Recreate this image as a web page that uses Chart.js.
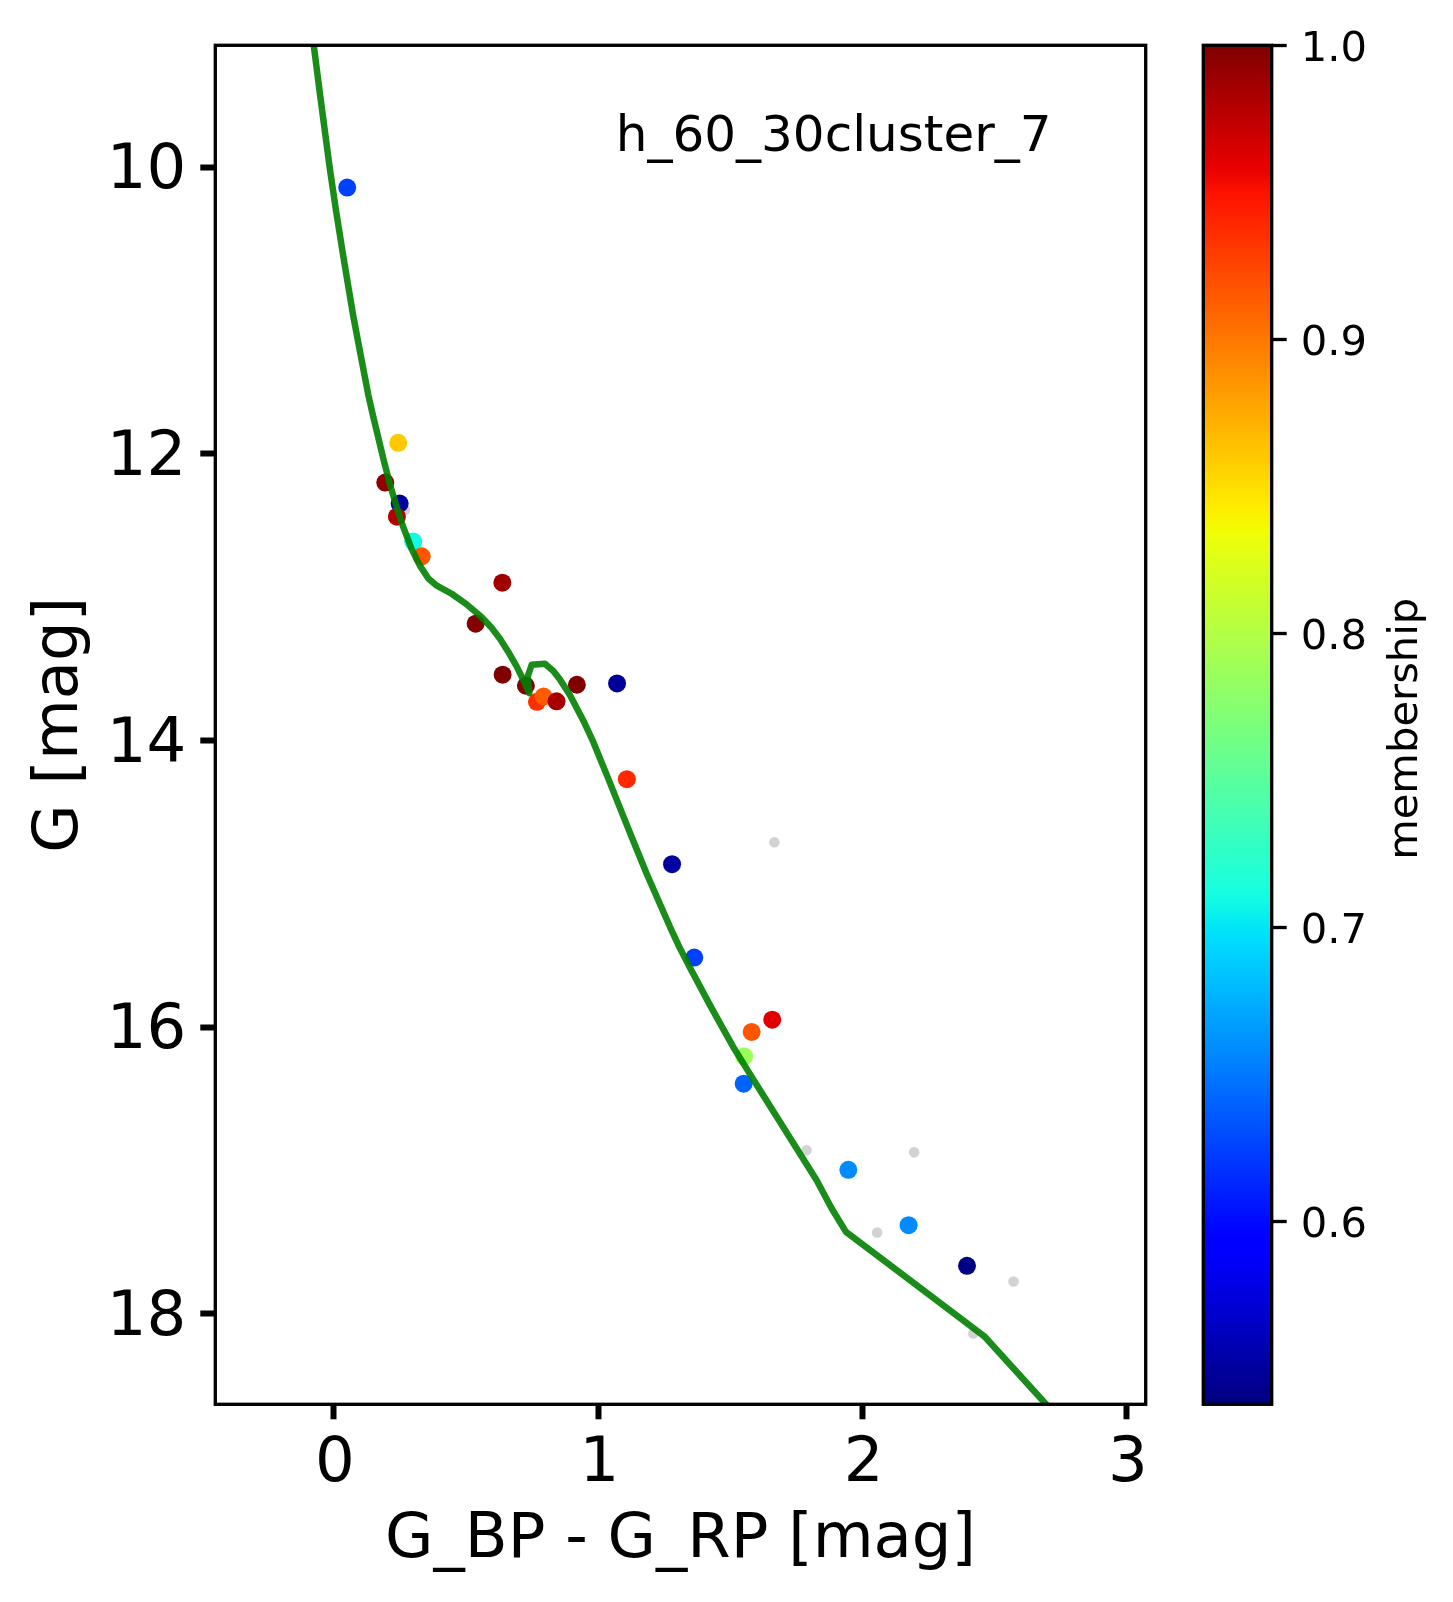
<!DOCTYPE html>
<html>
<head>
<meta charset="utf-8">
<title>h_60_30cluster_7</title>
<script src="https://cdn.jsdelivr.net/npm/chart.js@4/dist/chart.umd.min.js"></script>
<style>
  html, body { margin: 0; padding: 0; background: #fff; }
  #wrap { position: relative; width: 1453px; height: 1602px; overflow: hidden; }
  #cmd { position: absolute; left: 0; top: 0; }
  #bar { position: absolute; left: 1153px; top: 0; }
</style>
</head>
<body>
<div id="wrap">
  <canvas id="cmd" width="1453" height="1602"></canvas>
  <canvas id="bar" width="300" height="1602"></canvas>
</div>
<script>
// stars with a membership value (drawing order matters where they overlap)
const memberX = [0.050, 0.243, 0.194, 0.2485, 0.238, 0.300, 0.332, 0.637, 0.536, 0.638, 0.726, 0.919, 1.071, 0.768, 0.793, 0.842, 1.108, 1.279, 1.363, 1.658, 1.580, 1.552, 1.550, 1.946, 2.174, 2.395];
const memberY = [10.142, 11.923, 12.200, 12.347, 12.438, 12.612, 12.715, 12.899, 13.185, 13.541, 13.618, 13.611, 13.602, 13.730, 13.693, 13.727, 14.270, 14.863, 15.515, 15.948, 16.034, 16.204, 16.395, 16.996, 17.382, 17.666];
const memberP = [0.625, 0.860, 0.994, 0.551, 0.980, 0.709, 0.917, 0.987, 0.998, 1.000, 0.998, 1.000, 0.548, 0.935, 0.914, 0.984, 0.939, 0.551, 0.625, 0.961, 0.917, 0.786, 0.640, 0.659, 0.659, 0.540];

// grey field stars
const fieldX = [0.2686, 1.666, 1.788, 2.195, 2.055, 2.571, 2.419];
const fieldY = [12.391, 14.710, 16.860, 16.874, 17.433, 17.775, 18.138];

// isochrone
const isoX = [-0.080, -0.052, -0.017, 0.007, 0.035, 0.073, 0.105, 0.130, 0.149, 0.168, 0.187, 0.212, 0.237, 0.262, 0.294, 0.325, 0.357, 0.389, 0.445, 0.502, 0.559, 0.597, 0.628, 0.659, 0.691, 0.716, 0.739, 0.733, 0.748, 0.798, 0.830, 0.855, 0.893, 0.943, 0.981, 1.032, 1.082, 1.132, 1.183, 1.227, 1.271, 1.309, 1.347, 1.422, 1.467, 1.511, 1.561, 1.612, 1.826, 1.883, 1.937, 2.179, 2.463, 2.646, 2.720];
const isoY = [9.100, 9.503, 9.992, 10.294, 10.620, 11.039, 11.350, 11.590, 11.745, 11.890, 12.035, 12.215, 12.370, 12.510, 12.665, 12.780, 12.870, 12.920, 12.976, 13.050, 13.140, 13.215, 13.290, 13.380, 13.483, 13.576, 13.669, 13.553, 13.471, 13.465, 13.515, 13.575, 13.685, 13.860, 14.010, 14.240, 14.470, 14.700, 14.930, 15.115, 15.300, 15.450, 15.585, 15.845, 15.995, 16.140, 16.290, 16.440, 17.068, 17.266, 17.429, 17.766, 18.162, 18.534, 18.684];

const xTicks = [0, 1, 2, 3];
const yTicks = [10, 12, 14, 16, 18];
const barTicks = [0.6, 0.7, 0.8, 0.9, 1.0];
const xRange = [-0.449, 3.071];
const yRange = [9.149, 18.632];
const barRange = [0.5378, 1.0];

const labelName = 'h_60_30cluster_7';
const labelAt = [1.066, 9.889];

Chart.defaults.font.family = '"DejaVu Sans"';
Chart.defaults.color = '#000';

// matplotlib jet, piecewise
const jetR = [[0, 0], [0.35, 0], [0.66, 1], [0.89, 1], [1, 0.5]];
const jetG = [[0, 0], [0.125, 0], [0.375, 1], [0.64, 1], [0.91, 0], [1, 0]];
const jetB = [[0, 0.5], [0.11, 1], [0.34, 1], [0.65, 0], [1, 0]];

function lerp(tab, t) {
    for (let i = 1; i < tab.length; i++) {
        if (t <= tab[i][0]) {
            const f = (t - tab[i - 1][0]) / (tab[i][0] - tab[i - 1][0]);
            return tab[i - 1][1] + f * (tab[i][1] - tab[i - 1][1]);
        }
    }
    return tab[tab.length - 1][1];
}

function jet(t) {
    t = Math.min(1, Math.max(0, t));
    const c = [jetR, jetG, jetB].map(tab => Math.round(lerp(tab, t) * 255));
    return 'rgb(' + c.join(',') + ')';
}

function pColor(p) {
    return jet((p - barRange[0]) / (barRange[1] - barRange[0]));
}

function pairs(xs, ys) {
    return xs.map((x, i) => ({x: x, y: ys[i]}));
}

// pin the axis box, and drop the room chart.js keeps for overhanging labels
function pinBox(s, prop, size) {
    s[prop] = size;
    s.paddingTop = s.paddingBottom = s.paddingLeft = s.paddingRight = 0;
}

// black box round the plot area
const frame = {
    id: 'frame',
    afterDatasetsDraw(chart) {
        const a = chart.chartArea, ctx = chart.ctx;
        ctx.save();
        ctx.strokeStyle = '#000';
        ctx.lineWidth = 3.33;
        ctx.strokeRect(a.left, a.top, a.right - a.left, a.bottom - a.top);
        ctx.restore();
    }
};

const clusterName = {
    id: 'clusterName',
    afterDatasetsDraw(chart) {
        const ctx = chart.ctx;
        ctx.save();
        ctx.font = '50px "DejaVu Sans"';
        ctx.fillStyle = '#000';
        ctx.textAlign = 'left';
        ctx.textBaseline = 'alphabetic';
        ctx.fillText(labelName, chart.scales.x.getPixelForValue(labelAt[0]), chart.scales.y.getPixelForValue(labelAt[1]));
        ctx.restore();
    }
};

// chart.js turns a right hand title the other way, so this one is by hand
const barTitle = {
    id: 'barTitle',
    afterDraw(chart) {
        const a = chart.chartArea, ctx = chart.ctx;
        ctx.save();
        ctx.translate(1416.5 - 1153, (a.top + a.bottom) / 2 + 4);
        ctx.rotate(-Math.PI / 2);
        ctx.font = '41.67px "DejaVu Sans"';
        ctx.fillStyle = '#000';
        ctx.textAlign = 'center';
        ctx.textBaseline = 'alphabetic';
        ctx.fillText('membership', 0, 0);
        ctx.restore();
    }
};

new Chart(document.getElementById('cmd').getContext('2d'), {
    type: 'scatter',
    data: {
        datasets: [{
            data: pairs(isoX, isoY),
            showLine: true,
            borderColor: 'rgba(0,128,0,0.9)',
            borderWidth: 6.5,
            borderJoinStyle: 'round',
            tension: 0,
            pointRadius: 0,
            clip: 0,
            order: 0
        }, {
            data: pairs(memberX, memberY),
            pointRadius: 9,
            pointBorderWidth: 0,
            pointBackgroundColor: memberP.map(pColor),
            order: 1
        }, {
            data: pairs(fieldX, fieldY),
            pointRadius: 5.3,
            pointBorderWidth: 0,
            pointBackgroundColor: '#d3d3d3',
            order: 2
        }]
    },
    options: {
        responsive: false,
        animation: false,
        devicePixelRatio: 1,
        layout: {padding: {left: 10, right: 307.3, top: 45.3, bottom: 10}},
        plugins: {legend: {display: false}, tooltip: {enabled: false}},
        scales: {
            x: {
                type: 'linear',
                min: xRange[0],
                max: xRange[1],
                afterBuildTicks: s => { s.ticks = xTicks.map(v => ({value: v})); },
                afterFit: s => pinBox(s, 'height', 187.7),
                border: {display: false},
                grid: {drawOnChartArea: false, tickLength: 15, tickWidth: 6, tickColor: '#000'},
                ticks: {font: {size: 62.5}, padding: 8, labelOffset: 1, maxRotation: 0, autoSkip: false},
                title: {display: true, text: 'G_BP - G_RP [mag]', font: {size: 62.5}, padding: {top: 0, bottom: 14}}
            },
            y: {
                type: 'linear',
                reverse: true,
                min: yRange[0],
                max: yRange[1],
                afterBuildTicks: s => { s.ticks = yTicks.map(v => ({value: v})); },
                afterFit: s => pinBox(s, 'width', 205.3),
                border: {display: false},
                grid: {drawOnChartArea: false, tickLength: 15, tickWidth: 6, tickColor: '#000'},
                ticks: {font: {size: 62.5}, padding: 14, labelOffset: 5, autoSkip: false},
                title: {display: true, text: 'G [mag]', font: {size: 62.5}, padding: {top: 13, bottom: 0}}
            }
        }
    },
    plugins: [frame, clusterName]
});

new Chart(document.getElementById('bar').getContext('2d'), {
    type: 'bar',
    data: {
        labels: ['membership'],
        datasets: [{
            data: [barRange],
            barPercentage: 1,
            categoryPercentage: 1,
            borderSkipped: false,
            backgroundColor(c) {
                const a = c.chart.chartArea;
                if (!a) return '#000';
                const g = c.chart.ctx.createLinearGradient(0, a.bottom, 0, a.top);
                for (let i = 0; i <= 100; i++) g.addColorStop(i / 100, jet(i / 100));
                return g;
            }
        }]
    },
    options: {
        responsive: false,
        animation: false,
        devicePixelRatio: 1,
        layout: {padding: {left: 50.3, right: 10, top: 45.3, bottom: 197.7}},
        plugins: {legend: {display: false}, tooltip: {enabled: false}},
        scales: {
            x: {display: false},
            y: {
                type: 'linear',
                position: 'right',
                min: barRange[0],
                max: barRange[1],
                afterBuildTicks: s => { s.ticks = barTicks.map(v => ({value: v})); },
                afterFit: s => pinBox(s, 'width', 300 - 118.7 - 10),
                border: {display: false},
                grid: {drawOnChartArea: false, tickLength: 15, tickWidth: 3.33, tickColor: '#000'},
                ticks: {font: {size: 41.67}, padding: 14, labelOffset: 4.5, autoSkip: false, callback: v => Number(v).toFixed(1)}
            }
        }
    },
    plugins: [frame, barTitle]
});
</script>
</body>
</html>
